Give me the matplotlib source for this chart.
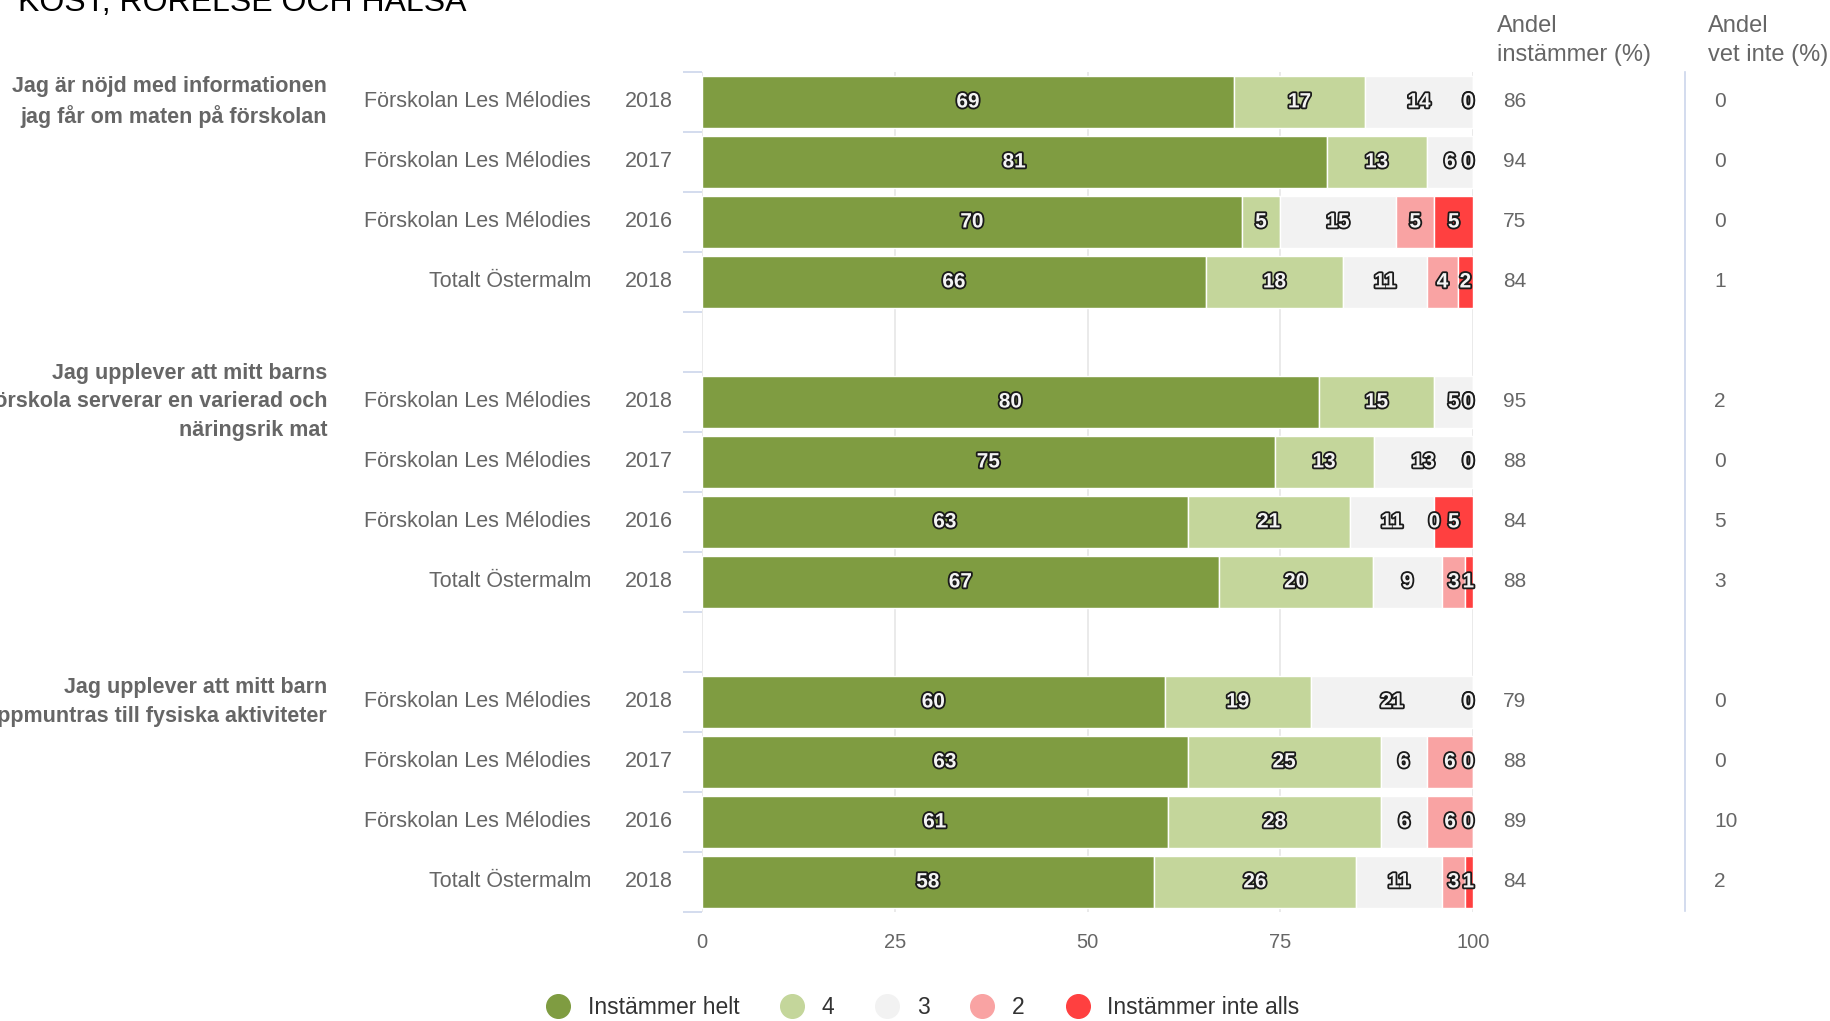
import numpy as np
import matplotlib.pyplot as plt
import matplotlib.patheffects as pe
from matplotlib.lines import Line2D
from matplotlib.transforms import blended_transform_factory

plt.rcParams['font.family'] = ['Liberation Sans', 'DejaVu Sans']

# data
questions = ["Jag är nöjd med informationen\njag får om maten på förskolan",
             "Jag upplever att mitt barns\nförskola serverar en varierad och\nnäringsrik mat",
             "Jag upplever att mitt barn\nuppmuntras till fysiska aktiviteter"]
units = ["Förskolan Les Mélodies", "Förskolan Les Mélodies", "Förskolan Les Mélodies", "Totalt Östermalm"]
years = ["2018", "2017", "2016", "2018"]
series_names = ["Instämmer helt", "4", "3", "2", "Instämmer inte alls"]
colors = ["#7f9c41", "#c4d69b", "#f2f2f2", "#f9a3a3", "#ff4040"]

# one row per bar: [helt, 4, 3, 2, inte alls]
values = np.array([
    [69, 17, 14, 0, 0],
    [81, 13, 6, 0, 0],
    [70, 5, 15, 5, 5],
    [66, 18, 11, 4, 2],
    [80, 15, 5, 0, 0],
    [75, 13, 13, 0, 0],
    [63, 21, 11, 0, 5],
    [67, 20, 9, 3, 1],
    [60, 19, 21, 0, 0],
    [63, 25, 6, 6, 0],
    [61, 28, 6, 6, 0],
    [58, 26, 11, 3, 1],
])
andel_instammer = [86, 94, 75, 84, 95, 88, 84, 88, 79, 88, 89, 84]
andel_vet_inte = [0, 0, 0, 1, 2, 0, 5, 3, 0, 0, 10, 2]

# bar slots, with an empty slot between groups
slots = [0, 1, 2, 3, 5, 6, 7, 8, 10, 11, 12, 13]

fig = plt.figure(figsize=(18.31, 10.21), dpi=100)
ax = fig.add_axes([0.3834, 0.1068, 0.4211, 0.8227])

shares = values / values.sum(axis=1, keepdims=True) * 100
left = np.zeros(len(slots))
outline = [pe.withStroke(linewidth=2.6, foreground='#1a1a1a')]
for j in range(5):
    ax.barh(slots, shares[:, j], left=left, height=0.86, color=colors[j],
            edgecolor='white', linewidth=1, zorder=2)
    for i, y in enumerate(slots):
        xc = left[i] + shares[i, j] / 2
        xc = min(xc, 99.4)
        ax.text(xc, y, str(values[i, j]), ha='center', va='center',
                fontsize=15, fontweight='bold', color='#f4f4f4',
                path_effects=outline, zorder=4)
    left += shares[:, j]

ax.set_xlim(0, 100)
ax.set_ylim(13.5, -0.5)
ax.set_xticks([0, 25, 50, 75, 100])
ax.tick_params(axis='x', length=0, pad=15, labelsize=14.5, labelcolor='#666666')
ax.set_yticks([])
ax.set_yticks(np.arange(-0.5, 14, 1), minor=True)
ax.tick_params(axis='y', which='minor', length=14, color='#ccd6eb', width=1.2)
ax.grid(axis='x', color='#e6e6e6', linewidth=1.2)
ax.set_axisbelow(True)
for s in ax.spines.values():
    s.set_visible(False)

tr = blended_transform_factory(fig.transFigure, ax.transData)
for i, y in enumerate(slots):
    k = i % 4
    ax.text(0.3228, y, units[k], transform=tr, ha='right', va='center',
            fontsize=15.5, color='#666666')
    ax.text(0.3676, y, years[k], transform=tr, ha='right', va='center',
            fontsize=15.5, color='#666666')
    ax.text(0.8209, y, str(andel_instammer[i]), transform=tr, ha='left', va='center',
            fontsize=15, color='#666666')
    ax.text(0.9361, y, str(andel_vet_inte[i]), transform=tr, ha='left', va='center',
            fontsize=15, color='#666666')

for g, q in enumerate(questions):
    ax.text(0.1786, slots[g * 4], q, transform=tr, ha='right', va='center',
            fontsize=15.5, fontweight='bold', color='#666666', linespacing=1.48)

# separator line between the two right columns
fig.add_artist(Line2D([0.9203, 0.9203], [1 - 72 / 1021, 1 - 911 / 1021],
                      color='#ccd6eb', linewidth=1.2))

fig.text(0.8176, 1 - 15 / 1021, "Andel\ninstämmer (%)", ha='left', va='top',
         fontsize=17, color='#666666', linespacing=1.43)
fig.text(0.9329, 1 - 15 / 1021, "Andel\nvet inte (%)", ha='left', va='top',
         fontsize=17, color='#666666', linespacing=1.43)

fig.text(0.0098, 1 - 11 / 1021, "KOST, RÖRELSE OCH HÄLSA", ha='left', va='baseline',
         fontsize=23, color='black')

handles = [Line2D([], [], marker='o', linestyle='none', markersize=17,
                  markerfacecolor=c, markeredgecolor=c) for c in colors]
fig.legend(handles, series_names, loc='center', bbox_to_anchor=(0.501, 0.013),
           ncol=5, frameon=False, fontsize=16.5, handletextpad=0.3,
           columnspacing=1.3, labelcolor='#333333')

fig.savefig('out.png', dpi=100)
